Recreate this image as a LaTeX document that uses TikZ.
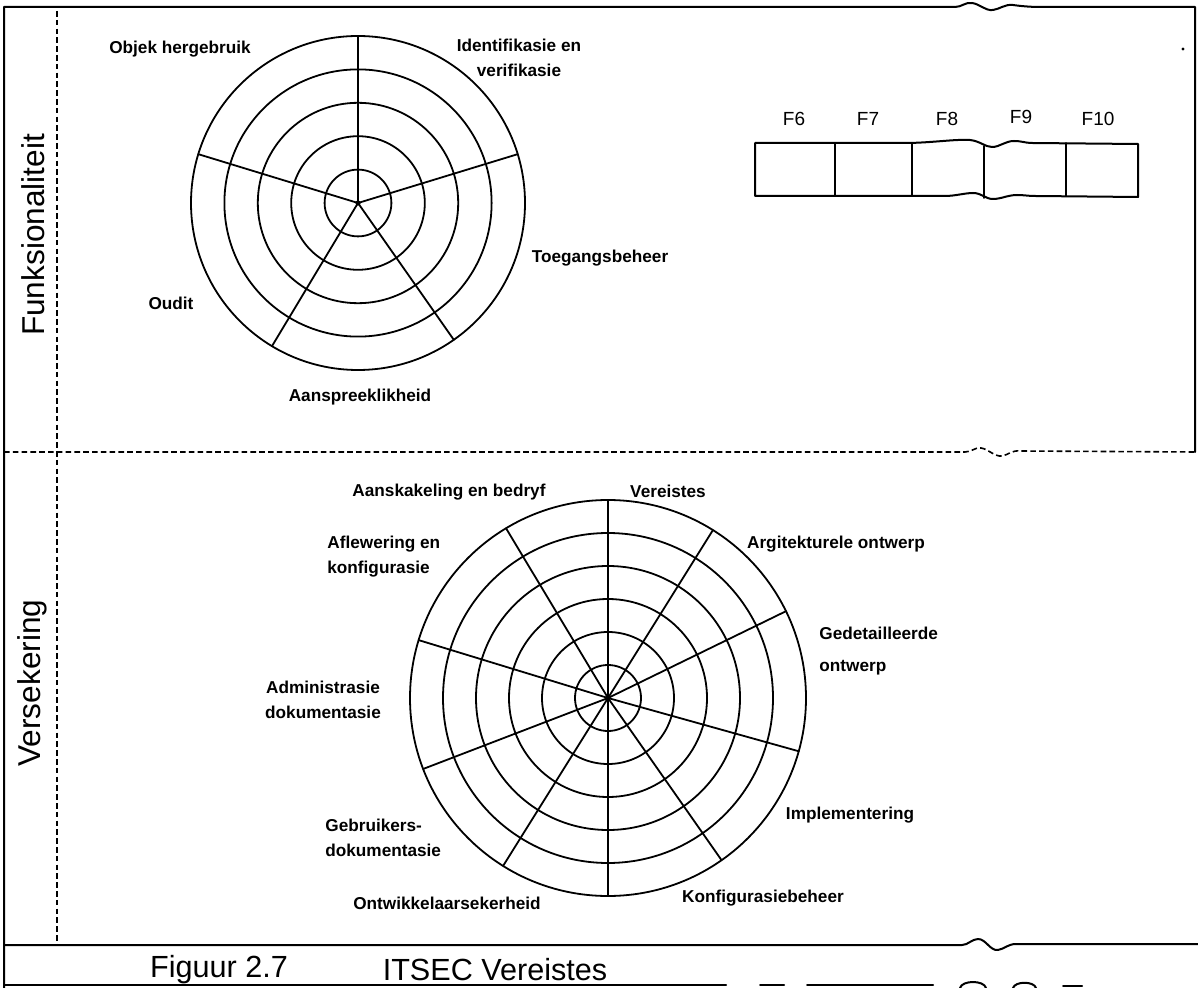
\documentclass[tikz,border=0pt]{standalone}
\usepackage{fontspec}
\setmainfont{Liberation Sans}
\newcommand{\lblfont}{\fontsize{8.6}{12.5}\selectfont\bfseries}
\newcommand{\cellfont}{\fontsize{9.5}{11}\selectfont}
\newcommand{\capfont}{\fontsize{15.3}{18}\selectfont}
\newcommand{\sidefont}{\fontsize{15.8}{18}\selectfont}
\begin{document}
\begin{tikzpicture}[x=0.5pt,y=-0.5pt,line join=round,line cap=round,
  frame/.style={line width=1pt},
  web/.style={line width=0.9pt},
  sep/.style={line width=0.8pt,line cap=butt,dash pattern=on 2.8pt off 1.6pt},
  lbl/.style={font=\lblfont,inner sep=0pt},
  cell/.style={font=\cellfont,inner sep=0pt},
  captiontext/.style={font=\capfont,inner sep=0pt},
  side/.style={font=\sidefont,inner sep=0pt,rotate=90}]
\fill[white] (0,0) rectangle (1198,988);
\useasboundingbox (0,0) rectangle (1198,988);

% outer frame of the upper panel, with the crease near the top right
\draw[frame] (4,988) -- (4,7) -- (955,7)
  .. controls (962,7) and (965,2) .. (972,3)
  .. controls (980,4) and (985,11) .. (993,10)
  .. controls (1000,9) and (1005,4) .. (1013,5)
  .. controls (1020,6) and (1030,7) .. (1040,7) -- (1195,7) -- (1195,452);

% dashed dividers
\draw[sep] (57,11) -- (57,944);
\draw[sep] (4,452) -- (965,452)
  .. controls (972,452) and (975,447) .. (981,448)
  .. controls (988,449) and (995,457) .. (1002,456)
  .. controls (1008,455) and (1012,450) .. (1020,451) -- (1195,452);

% caption strip
\draw[frame] (4,945) -- (962,945)
  .. controls (968,945) and (972,939) .. (978,939)
  .. controls (986,939) and (990,951) .. (998,950)
  .. controls (1004,949) and (1008,944) .. (1016,944) -- (1198,944);
\draw[frame] (4,985) -- (726,985);
\draw[frame] (760,985) -- (784,985);
\draw[frame] (807,985) -- (933,985);
\draw[frame] (960,988) .. controls (962,980) and (984,980) .. (986,988);
\draw[frame] (1013,988) .. controls (1015,981) and (1034,981) .. (1036,988);
\draw[frame] (1063,986) -- (1082,986);
\fill (1183,49) circle[radius=1.6];

% side titles
\node[side] (funk) at (33,235) {Funksionaliteit};
\node[side] (vers) at (32,683) {Versekering};

% caption
\node[captiontext] (fig) at (219,970) {Figuur 2.7};
\node[captiontext] (title) at (495,970) {ITSEC Vereistes};

% functionality web: five classes, five levels (y axis points down, so angles run clockwise)
\coordinate (tc) at (358,203);
\foreach \k in {1,...,5} \draw[web] (tc) circle[radius=33.4*\k];
\foreach \a in {-90,-17,55,121,-163} \draw[web] (tc) -- ++(\a:167);
\fill (tc) circle[radius=2.6];

\node[lbl] (obj) at (180,49) {Objek hergebruik};
\node[lbl,align=center] (ident) at (519,58) {Identifikasie en\\verifikasie};
\node[lbl] (toeg) at (600,258) {Toegangsbeheer};
\node[lbl] (oudit) at (171,303) {Oudit};
\node[lbl] (aansp) at (360,397) {Aanspreeklikheid};

% functionality classes F6 to F10
\draw[frame] (755,143) -- (905,143)
  .. controls (930,143) and (955,139) .. (970,140)
  .. controls (980,141) and (985,147) .. (992,147)
  .. controls (1000,147) and (1005,141) .. (1014,141)
  .. controls (1022,141) and (1025,143) .. (1032,143) -- (1138,144)
  -- (1138,197) -- (1035,196)
  .. controls (1028,196) and (1024,195) .. (1017,195)
  .. controls (1008,195) and (1001,199) .. (993,199)
  .. controls (985,199) and (982,193) .. (973,193)
  .. controls (965,193) and (955,196) .. (945,196) -- (755,196) -- cycle;
\draw[web] (835,143) -- (835,196);
\draw[web] (912,143) -- (912,196);
\draw[web] (984,146) -- (984,198);
\draw[web] (1066,143) -- (1066,196);
\node[cell] (f6) at (794,119) {F6};
\node[cell] (f7) at (868,119) {F7};
\node[cell] (f8) at (947,119) {F8};
\node[cell] (f9) at (1021,117) {F9};
\node[cell] (f10) at (1098,119) {F10};

% assurance web: ten aspects, six levels
\coordinate (bc) at (608,698);
\foreach \k in {1,...,6} \draw[web] (bc) circle[radius=33*\k];
\foreach \a in {-90,-58,-26,15.6,55,90,122,159,-163,-121} \draw[web] (bc) -- ++(\a:198);
\fill (bc) circle[radius=2.6];

\node[lbl] (aansk) at (449,492) {Aanskakeling en bedryf};
\node[lbl] (vere) at (668,491) {Vereistes};
\node[lbl] (argi) at (836,544) {Argitekturele ontwerp};
\node[lbl,align=left,anchor=west] (gedet) at (819,651) {Gedetailleerde\\[3.5pt]ontwerp};
\node[lbl] (impl) at (850,815) {Implementering};
\node[lbl] (konf) at (763,898) {Konfigurasiebeheer};
\node[lbl] (ontw) at (447,903) {Ontwikkelaarsekerheid};
\node[lbl,align=left,anchor=west] (gebr) at (325,838) {Gebruikers-\\dokumentasie};
\node[lbl,align=center] (admin) at (323,700) {Administrasie\\dokumentasie};
\node[lbl,align=left,anchor=west] (afl) at (327,557) {Aflewering en\\konfigurasie};
\end{tikzpicture}
\end{document}
